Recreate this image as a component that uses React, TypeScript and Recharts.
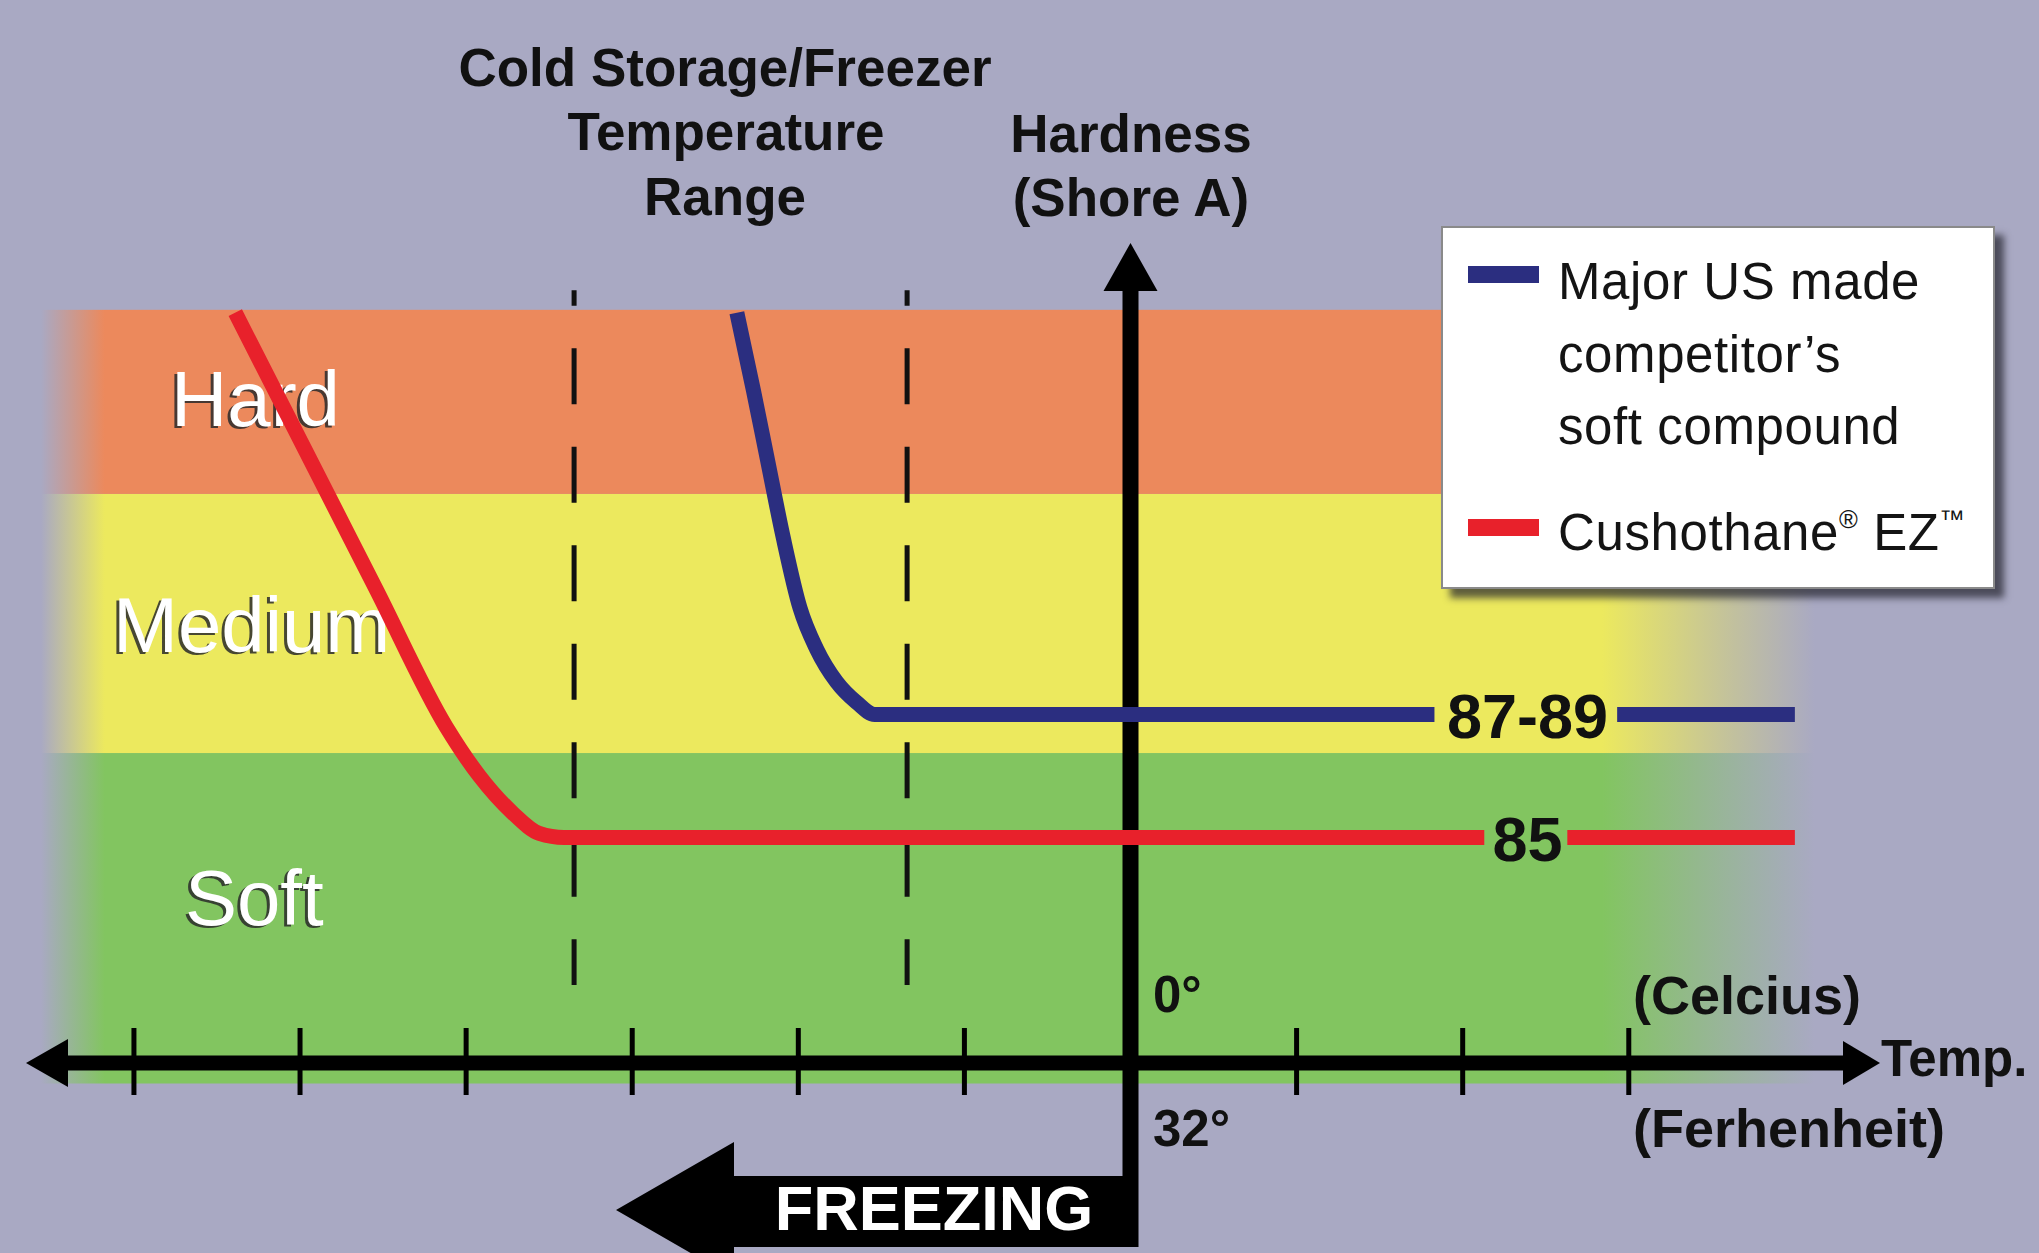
import React from 'react';
import {
  LineChart,
  Line,
  XAxis,
  YAxis,
  ReferenceArea,
  ReferenceLine,
  ReferenceDot,
  Legend,
} from 'recharts';

// ---------------- data ----------------
const tempTicks = [-6, -5, -4, -3, -2, -1, 1, 2, 3];
const tempDomain: [number, number] = [-6.45, 4.3];
const hardnessDomain: [number, number] = [79.5, 99.5];

const bandNames = ['Soft', 'Medium', 'Hard'];
const bandLow = [79.0, 87.06, 93.38];
const bandHigh = [87.06, 93.38, 97.87];
const bandTempFrom = -6.56;
const bandTempTo = 4.12;

const coldRangeTemps = [-3.35, -1.345];
const coldRangeHardness = [98.35, 81.4];

const competitorName = 'Major US made\ncompetitor\u2019s\nsoft compound';
const competitorTemp = [-2.37, -2.27, -2.19, -2.09, -1.99, -1.89, -1.77, -1.65, -1.54, 1.83, 2.39, 2.93, 4.0];
const competitorHardness = [97.8, 95.9, 94.3, 92.3, 90.6, 89.6, 88.8, 88.3, 88, 88, null, 88, 88];

const cushothaneName = 'Cushothane\u00ae EZ\u2122';
const cushothaneTemp = [-5.39, -4.96, -4.54, -4.12, -3.92, -3.72, -3.56, -3.41, 2.13, 2.39, 2.63, 4.0];
const cushothaneHardness = [97.8, 94.38, 91.04, 87.7, 86.5, 85.6, 85.1, 85, 85, null, 85, 85];

const legendOrder = [competitorName, cushothaneName];

const valueLabelTemp = 2.39;
const valueLabels = ['87-89', '85'];
const valueLabelHardness = [88, 85];

const yAxisTopHardness = 98.35;

const competitorData = competitorTemp.map((t, i) => ({ t, h: competitorHardness[i] }));
const cushothaneData = cushothaneTemp.map((t, i) => ({ t, h: cushothaneHardness[i] }));

// ---------------- styles ----------------
const W = 2039;
const H = 1253;
const FONT = '"Liberation Sans", Arial, Helvetica, sans-serif';
const BG = '#a9a9c3';
const BLUE = '#2b2e80';
const RED = '#e8212b';

const bandStyle: Record<string, { fill: string; dx: number; dy: number }> = {
  Soft: { fill: '#82c560', dx: 144, dy: 172 },
  Medium: { fill: '#ece95e', dx: 72, dy: 158 },
  Hard: { fill: '#ec895c', dx: 130, dy: 116 },
};

const makeBandShape = (name: string) => (p: any) => {
  const s = bandStyle[name];
  const id = `band-grad-${name}`;
  return (
    <g>
      <defs>
        <linearGradient id={id} x1="0" y1="0" x2="1" y2="0">
          <stop offset="0" stopColor={s.fill} stopOpacity={0} />
          <stop offset="0.036" stopColor={s.fill} stopOpacity={1} />
          <stop offset="0.88" stopColor={s.fill} stopOpacity={1} />
          <stop offset="0.95" stopColor={s.fill} stopOpacity={0.4} />
          <stop offset="1" stopColor={s.fill} stopOpacity={0} />
        </linearGradient>
      </defs>
      <rect x={p.x} y={p.y} width={p.width} height={p.height} fill={`url(#${id})`} />
      <text
        x={p.x + s.dx - 3}
        y={p.y + s.dy + 2}
        fontFamily={FONT}
        fontSize={78}
        fill="#2a2a2a"
        fillOpacity={0.85}
      >
        {name}
      </text>
      <text x={p.x + s.dx} y={p.y + s.dy} fontFamily={FONT} fontSize={78} fill="#ffffff">
        {name}
      </text>
    </g>
  );
};

const CrossTick = (props: any) => {
  const { x, y } = props;
  return <line x1={x} x2={x} y1={y - 35} y2={y + 32} stroke="#000" strokeWidth={5} />;
};

const renderName = (name: string) =>
  name.split(/([\u00ae\u2122])/).map((part, i) =>
    part === '\u00ae' || part === '\u2122' ? (
      <span key={i} style={{ fontSize: '0.5em', position: 'relative', top: '-0.85em' }}>
        {part}
      </span>
    ) : (
      <span key={i}>{part}</span>
    )
  );

const legendSlots = [
  { swatchTop: 37.6, textTop: 18.1 },
  { swatchTop: 290.6, textTop: 269.1 },
];

const LegendBox = (props: any) => {
  const payload = [...(props.payload || [])].sort(
    (a: any, b: any) => legendOrder.indexOf(String(a.value)) - legendOrder.indexOf(String(b.value))
  );
  return (
    <div
      style={{
        position: 'relative',
        width: 554,
        height: 363,
        boxSizing: 'border-box',
        background: '#ffffff',
        border: '2px solid #8a8a8a',
        boxShadow: '9px 9px 7px rgba(35,35,45,0.7)',
        fontFamily: FONT,
        fontSize: 51,
        color: '#141414',
      }}
    >
      {payload.map((entry: any, i: number) => {
        const slot = legendSlots[i] || legendSlots[0];
        return (
          <React.Fragment key={i}>
            <div
              style={{
                position: 'absolute',
                left: 25,
                top: slot.swatchTop,
                width: 71,
                height: 17,
                background: entry.color,
              }}
            />
            <div
              style={{
                position: 'absolute',
                left: 115,
                top: slot.textTop,
                lineHeight: '72.5px',
                whiteSpace: 'pre',
                letterSpacing: 0.6,
              }}
            >
              {renderName(String(entry.value))}
            </div>
          </React.Fragment>
        );
      })}
    </div>
  );
};

const Overlay = () => (
  <svg
    width={W}
    height={H}
    style={{ position: 'absolute', left: 0, top: 0, pointerEvents: 'none' }}
  >
    <g fontFamily={FONT} fontWeight="bold" fill="#111">
      <text x={725} y={86} textAnchor="middle" fontSize={53}>Cold Storage/Freezer</text>
      <text x={726} y={150} textAnchor="middle" fontSize={53}>Temperature</text>
      <text x={725} y={215} textAnchor="middle" fontSize={53}>Range</text>
      <text x={1131} y={152} textAnchor="middle" fontSize={53}>Hardness</text>
      <text x={1131} y={216} textAnchor="middle" fontSize={53}>(Shore A)</text>
      <text x={1153} y={1012} fontSize={51}>0°</text>
      <text x={1153} y={1146} fontSize={51}>32°</text>
      <text x={1633} y={1014} fontSize={54}>(Celcius)</text>
      <text x={1633} y={1147} fontSize={54}>(Ferhenheit)</text>
      <text x={1881} y={1076} fontSize={51}>Temp.</text>
    </g>
    <polygon points="26,1063 68,1039 68,1087" fill="#000" />
    <polygon points="1880,1063 1843,1041 1843,1085" fill="#000" />
    <polygon points="1130.5,243 1157.5,291 1103.5,291" fill="#000" />
    <polygon
      points="616,1210 734,1142 734,1176 1122.5,1176 1122.5,1063 1138.5,1063 1138.5,1247 734,1247 734,1278"
      fill="#000"
    />
    <text
      x={934}
      y={1230}
      textAnchor="middle"
      fontFamily={FONT}
      fontWeight="bold"
      fontSize={63}
      fill="#ffffff"
    >
      FREEZING
    </text>
  </svg>
);

export default function App() {
  return (
    <div
      style={{
        position: 'absolute',
        left: 0,
        top: 0,
        width: W,
        height: H,
        background: BG,
        overflow: 'hidden',
      }}
    >
      <LineChart
        width={W}
        height={H}
        margin={{ top: 243, right: 194.3, bottom: 160, left: 59.2 }}
      >
        {bandNames.map((name, i) => (
          <ReferenceArea
            key={name}
            x1={bandTempFrom}
            x2={bandTempTo}
            y1={bandLow[i]}
            y2={bandHigh[i]}
            ifOverflow="visible"
            shape={makeBandShape(name)}
          />
        ))}
        <XAxis
          type="number"
          dataKey="t"
          domain={tempDomain}
          allowDataOverflow
          ticks={tempTicks}
          interval={0}
          tickSize={0}
          tickMargin={0}
          height={30}
          axisLine={{ stroke: '#000', strokeWidth: 15 }}
          tickLine={false}
          tick={<CrossTick />}
        />
        <YAxis type="number" domain={hardnessDomain} allowDataOverflow hide />
        {coldRangeTemps.map((t) => (
          <ReferenceLine
            key={t}
            segment={[
              { x: t, y: coldRangeHardness[0] },
              { x: t, y: coldRangeHardness[1] },
            ]}
            stroke="#111"
            strokeWidth={5}
            strokeDasharray="56 42.5"
            strokeDashoffset={40.5}
            ifOverflow="visible"
          />
        ))}
        <ReferenceLine
          segment={[
            { x: 0, y: yAxisTopHardness },
            { x: 0, y: hardnessDomain[0] },
          ]}
          stroke="#000"
          strokeWidth={16}
          ifOverflow="visible"
        />
        <Line
          data={competitorData}
          dataKey="h"
          name={competitorName}
          type="monotone"
          stroke={BLUE}
          strokeWidth={15}
          dot={false}
          activeDot={false}
          connectNulls={false}
          isAnimationActive={false}
        />
        <Line
          data={cushothaneData}
          dataKey="h"
          name={cushothaneName}
          type="monotone"
          stroke={RED}
          strokeWidth={15}
          dot={false}
          activeDot={false}
          connectNulls={false}
          isAnimationActive={false}
        />
        {valueLabels.map((label, i) => (
          <ReferenceDot
            key={label}
            x={valueLabelTemp}
            y={valueLabelHardness[i]}
            r={0}
            ifOverflow="visible"
            shape={(p: any) => (
              <text
                x={p.cx}
                y={p.cy + 23}
                textAnchor="middle"
                fontFamily={FONT}
                fontWeight="bold"
                fontSize={63}
                fill="#111"
              >
                {label}
              </text>
            )}
          />
        ))}
        <Legend
          layout="horizontal"
          verticalAlign="middle"
          align="center"
          wrapperStyle={{ left: 1441, top: 226, width: 554, height: 363, margin: 0 }}
          content={LegendBox}
        />
      </LineChart>
      <Overlay />
    </div>
  );
}
